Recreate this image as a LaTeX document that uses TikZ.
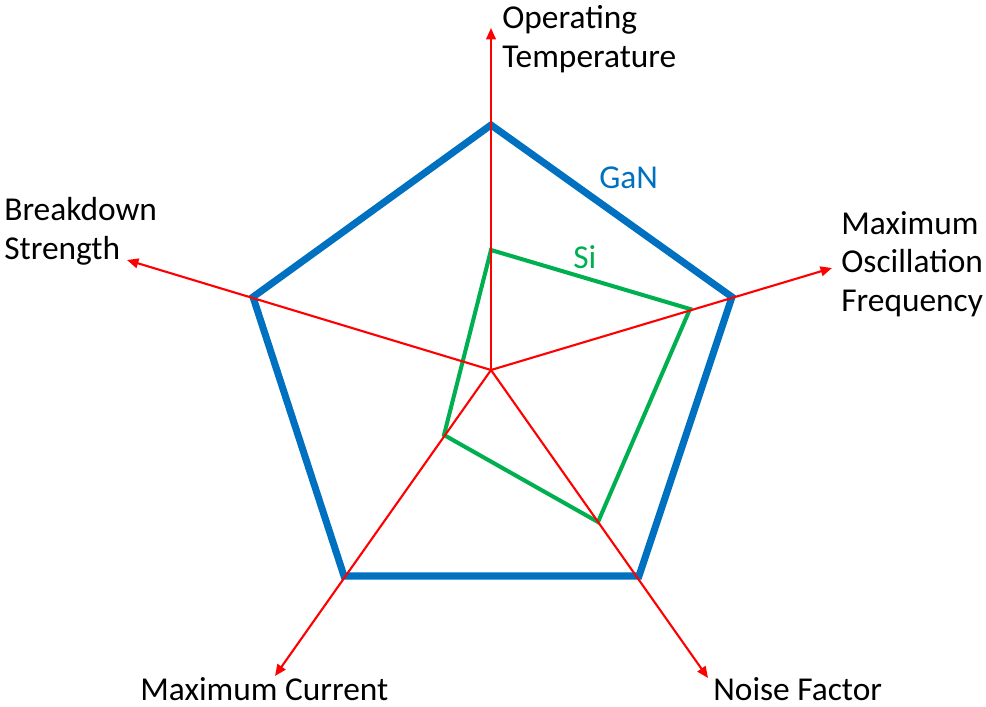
\documentclass[tikz,border=0pt]{standalone}
\usepackage{fontspec}
\setmainfont{Carlito}
\usetikzlibrary{arrows.meta}
\definecolor{ganblue}{RGB}{0,112,192}
\definecolor{sigreen}{RGB}{0,176,80}
\tikzset{
	axis/.style={red,line width=1.2pt,-{Triangle[length=6.5pt,width=5.5pt]}},
	lbl/.style={inner sep=0pt,align=left,font=\fontsize{19}{22}\selectfont},
}

\begin{document}
\begin{tikzpicture}[x=0.02cm,y=-0.02cm]
	\useasboundingbox (0,0) rectangle (986,706);
	\coordinate (o) at (491,370);
	\coordinate (temp) at (491,28);
	\coordinate (osc) at (832,268);
	\coordinate (noise) at (708,678);
	\coordinate (curr) at (275,676);
	\coordinate (break) at (127,260);
	\draw[ganblue,line width=4pt] (491,125) -- (732,297) -- (639,576) -- (344,576) -- (253,297) -- cycle;
	\draw[sigreen,line width=2.3pt] (491,250) -- (690,309) -- (598,522) -- (444,435) -- cycle;
	\foreach \t in {temp,osc,noise,curr,break}{
		\draw[axis] (o) -- (\t);}
	\node[lbl,anchor=north west] (templbl) at (502,5) {Operating\\Temperature};
	\node[lbl,anchor=north west] (oscl) at (841,211) {Maximum\\Oscillation\\Frequency};
	\node[lbl,anchor=north west] (breakl) at (4,197) {Breakdown\\Strength};
	\node[lbl,anchor=base west] (currl) at (140,700) {Maximum Current};
	\node[lbl,anchor=base west] (noisel) at (713,700) {Noise Factor};
	\node[lbl,anchor=base west,text=ganblue] (gan) at (599,188) {GaN};
	\node[lbl,anchor=base west,text=sigreen] (si) at (573,268) {Si};
\end{tikzpicture}
\end{document}
